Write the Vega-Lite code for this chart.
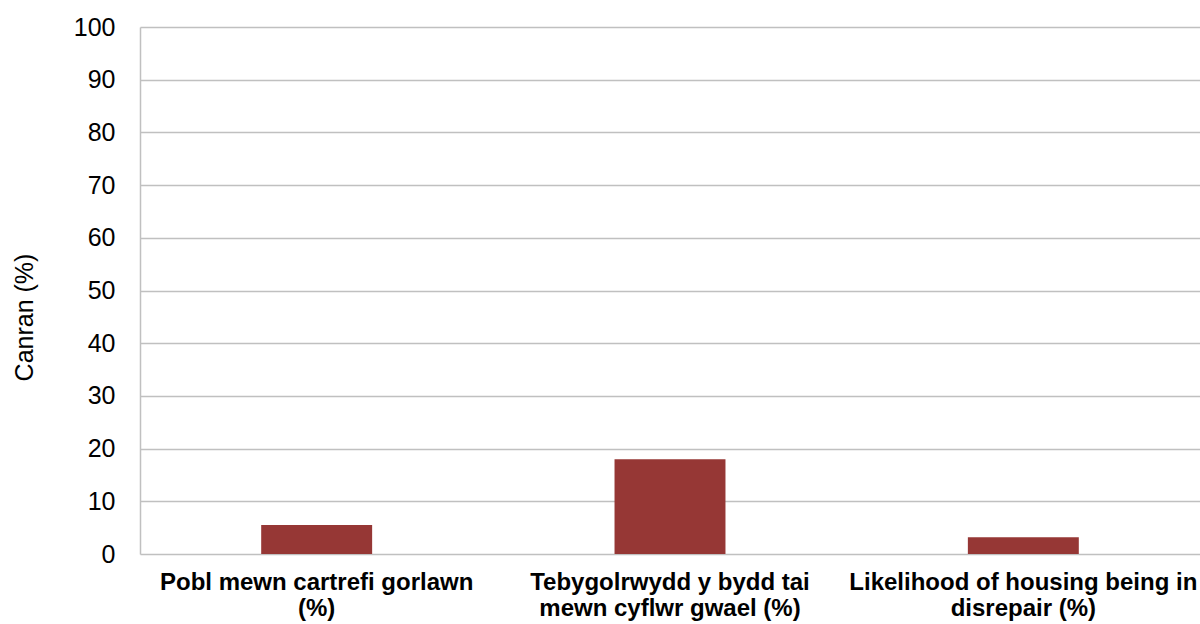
{
  "$schema": "https://vega.github.io/schema/vega-lite/v6.json",
  "autosize": "none",
  "padding": {"left": 140, "top": 27, "right": 0, "bottom": 70},
  "width": 1060,
  "height": 527,
  "background": "white",
  "data": {
    "values": [
      {"category": "Pobl mewn cartrefi gorlawn|(%)", "value": 5.5},
      {"category": "Tebygolrwydd y bydd tai|mewn cyflwr gwael (%)", "value": 18.0},
      {"category": "Likelihood of housing being in|disrepair (%)", "value": 3.2}
    ]
  },
  "config": {
    "font": "Liberation Sans",
    "view": {"stroke": null}
  },
  "mark": {"type": "bar", "color": "#963735"},
  "encoding": {
    "x": {
      "field": "category",
      "type": "nominal",
      "sort": null,
      "scale": {"paddingInner": 0.686, "paddingOuter": 0.343},
      "axis": {
        "title": null,
        "labelAngle": 0,
        "labelExpr": "split(datum.label, '|')",
        "labelFont": "Liberation Sans",
        "labelFontSize": 24,
        "labelFontWeight": "bold",
        "labelColor": "#000000",
        "labelLineHeight": 26,
        "labelPadding": 16,
        "labelLimit": 500,
        "ticks": false,
        "domain": false,
        "grid": false
      }
    },
    "y": {
      "field": "value",
      "type": "quantitative",
      "scale": {"domain": [0, 100], "nice": false},
      "axis": {
        "title": "Canran (%)",
        "titleFont": "Liberation Sans",
        "titleFontSize": 25,
        "titleFontWeight": "normal",
        "titleColor": "#000000",
        "titlePadding": 36,
        "titleY": 290,
        "values": [0, 10, 20, 30, 40, 50, 60, 70, 80, 90, 100],
        "labelFont": "Liberation Sans",
        "labelFontSize": 25,
        "labelColor": "#000000",
        "labelPadding": 25,
        "ticks": false,
        "domain": true,
        "domainColor": "#c0c0c0",
        "domainWidth": 1.5,
        "grid": true,
        "gridColor": "#c0c0c0",
        "gridWidth": 1.5
      }
    }
  }
}
